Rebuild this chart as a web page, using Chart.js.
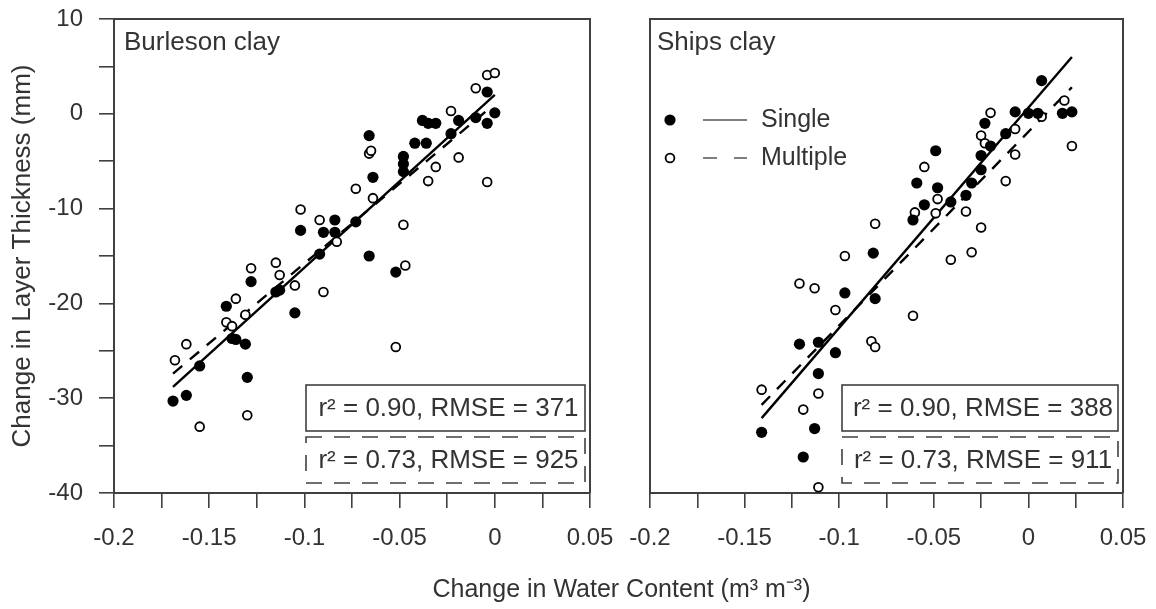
<!DOCTYPE html>
<html>
<head>
<meta charset="utf-8">
<title>Layer thickness vs water content</title>
<script src="https://cdn.jsdelivr.net/npm/chart.js@4.4.1/dist/chart.umd.min.js"></script>
<style>
  html, body { margin: 0; padding: 0; background: #fff; }
  #wrap { position: relative; width: 1156px; height: 609px; overflow: hidden; background: #fff; }
  #wrap canvas { position: absolute; left: 0; top: 0; }
</style>
</head>
<body>
<div id="wrap">
  <canvas id="burleson" width="1156" height="609"></canvas>
  <canvas id="ships" width="1156" height="609"></canvas>
</div>
<script>
// ---- axis ticks ----
const xTicks = [-0.2, -0.175, -0.15, -0.125, -0.1, -0.075, -0.05, -0.025, 0, 0.025, 0.05];
const xTickLabels = ['-0.2', '', '-0.15', '', '-0.1', '', '-0.05', '', '0', '', '0.05'];
const yTicks = [-40, -35, -30, -25, -20, -15, -10, -5, 0, 5, 10];
const yTickLabels = ['-40', '', '-30', '', '-20', '', '-10', '', '0', '', '10'];

// ---- Burleson clay: [change in water content, change in layer thickness] ----
const burlesonSingle = [
  [-0.169, -30.3], [-0.162, -29.7], [-0.155, -26.6], [-0.141, -20.3], [-0.138, -23.7],
  [-0.136, -23.8], [-0.131, -24.3], [-0.130, -27.8], [-0.128, -17.7], [-0.115, -18.8],
  [-0.113, -18.6], [-0.105, -21.0], [-0.092, -14.8], [-0.102, -12.3], [-0.090, -12.5],
  [-0.084, -11.2], [-0.084, -12.5], [-0.073, -11.4], [-0.066, -2.3], [-0.064, -6.7],
  [-0.066, -15.0], [-0.048, -4.5], [-0.048, -5.3], [-0.048, -6.1], [-0.042, -3.1],
  [-0.036, -3.1], [-0.038, -0.7], [-0.035, -1.0], [-0.031, -1.0], [-0.023, -2.1],
  [-0.019, -0.7], [-0.010, -0.4], [-0.004, 2.3], [-0.004, -1.0], [0.000, 0.1],
  [-0.052, -16.7]
];
const burlesonMultiple = [
  [-0.168, -26.0], [-0.162, -24.3], [-0.155, -33.0], [-0.141, -22.0], [-0.138, -22.4],
  [-0.136, -19.5], [-0.131, -21.2], [-0.130, -31.8], [-0.128, -16.3], [-0.115, -15.7],
  [-0.113, -17.0], [-0.105, -18.1], [-0.090, -18.8], [-0.102, -10.1], [-0.092, -11.2],
  [-0.083, -13.5], [-0.066, -4.2], [-0.065, -3.9], [-0.073, -7.9], [-0.064, -8.9],
  [-0.048, -11.7], [-0.031, -5.6], [-0.035, -7.1], [-0.019, -4.6], [-0.023, 0.3],
  [-0.010, 2.7], [-0.004, 4.1], [0.000, 4.3], [-0.004, -7.2], [-0.047, -16.0],
  [-0.052, -24.6]
];
const burlesonSingleFit = [[-0.169, -28.8], [0.000, 2.0]];
const burlesonMultipleFit = [[-0.169, -27.4], [-0.005, 0.2]];
const burlesonStats = ['r\u00B2 = 0.90, RMSE = 371', 'r\u00B2 = 0.73, RMSE = 925'];

// ---- Ships clay ----
const shipsSingle = [
  [0.007, 3.5], [-0.007, 0.2], [0.000, 0.05], [0.005, 0.05], [0.018, 0.05],
  [0.023, 0.2], [-0.023, -1.0], [-0.012, -2.1], [-0.020, -3.4], [-0.025, -4.4],
  [-0.049, -3.9], [-0.025, -5.9], [-0.059, -7.3], [-0.048, -7.8], [-0.030, -7.3],
  [-0.055, -9.6], [-0.033, -8.6], [-0.041, -9.3], [-0.061, -11.2], [-0.082, -14.7],
  [-0.097, -18.9], [-0.081, -19.5], [-0.121, -24.3], [-0.111, -24.1], [-0.102, -25.2],
  [-0.111, -27.4], [-0.141, -33.6], [-0.113, -33.2], [-0.119, -36.2]
];
const shipsMultiple = [
  [-0.020, 0.1], [0.007, -0.3], [0.019, 1.4], [0.023, -3.4], [-0.007, -1.6],
  [-0.007, -4.3], [-0.025, -2.3], [-0.023, -3.1], [-0.012, -7.1], [-0.055, -5.6],
  [-0.060, -10.4], [-0.048, -9.0], [-0.049, -10.5], [-0.033, -10.3], [-0.025, -12.0],
  [-0.041, -15.4], [-0.030, -14.6], [-0.081, -11.6], [-0.097, -15.0], [-0.121, -17.9],
  [-0.113, -18.4], [-0.102, -20.7], [-0.083, -24.0], [-0.081, -24.6], [-0.141, -29.1],
  [-0.111, -29.5], [-0.119, -31.2], [-0.111, -39.4], [-0.061, -21.3]
];
const shipsSingleFit = [[-0.141, -32.1], [0.023, 6.0]];
const shipsMultipleFit = [[-0.141, -30.7], [0.023, 2.8]];
const shipsStats = ['r\u00B2 = 0.90, RMSE = 388', 'r\u00B2 = 0.73, RMSE = 911'];

const seriesNames = ['Single', 'Multiple'];
const yTitle = 'Change in Layer Thickness (mm)';
const xTitle = 'Change in Water Content (m\u00B3 m\u207B\u00B3)';

// ---- styling ----
const FAMILY = "'Liberation Sans', Arial, Helvetica, sans-serif";
const TICK_SIZE = 24;
const TEXT = '#333333';
const AXIS = '#404040';
const font = px => px + 'px ' + FAMILY;

Chart.defaults.font.family = FAMILY;
Chart.defaults.font.size = TICK_SIZE;
Chart.defaults.color = TEXT;

const toXY = rows => rows.map(([x, y]) => ({ x, y }));

function panelDatasets(single, multiple, singleFit, multipleFit) {
  return [
    { label: seriesNames[0], data: toXY(single), pointRadius: 5.6, pointHoverRadius: 5.6,
      backgroundColor: '#000', borderColor: '#000', borderWidth: 0, order: 1 },
    { label: seriesNames[1], data: toXY(multiple), pointRadius: 4.4, pointHoverRadius: 4.4,
      backgroundColor: '#fff', borderColor: '#000', borderWidth: 1.8, order: 1 },
    { label: seriesNames[0] + ' fit', data: toXY(singleFit), showLine: true, pointRadius: 0,
      borderColor: '#000', borderWidth: 2.4, order: 2 },
    { label: seriesNames[1] + ' fit', data: toXY(multipleFit), showLine: true, pointRadius: 0,
      borderColor: '#000', borderWidth: 2.4, borderDash: [12, 10], order: 2 }
  ];
}

function xScale() {
  return {
    type: 'linear', position: 'bottom', min: -0.2, max: 0.05,
    afterBuildTicks: s => { s.ticks = xTicks.map(v => ({ value: v })); },
    // fixed axis height; the end labels may overhang the plot frame
    afterFit: s => { s.height = 116; s.paddingLeft = 0; s.paddingRight = 0; },
    ticks: { autoSkip: false, maxRotation: 0, minRotation: 0, padding: 16, color: TEXT,
             callback: (v, i) => xTickLabels[i] },
    grid: { drawOnChartArea: false, drawTicks: true, tickLength: 15, color: AXIS, lineWidth: 1.6 },
    border: { display: true, color: AXIS, width: 2 }
  };
}

function yScale(withLabels, width) {
  const s = {
    type: 'linear', position: 'left', min: -40, max: 10,
    afterBuildTicks: sc => { sc.ticks = yTicks.map(v => ({ value: v })); },
    // fixed axis width; the end labels may overhang the plot frame
    afterFit: sc => { sc.width = width; sc.paddingTop = 0; sc.paddingBottom = 0; },
    border: { display: true, color: AXIS, width: 2 }
  };
  if (withLabels) {
    s.ticks = { autoSkip: false, padding: 16, color: TEXT, callback: (v, i) => yTickLabels[i] };
    s.grid = { drawOnChartArea: false, drawTicks: true, tickLength: 15, color: AXIS, lineWidth: 1.6 };
    s.title = { display: true, text: yTitle, color: TEXT, padding: { top: 7, bottom: 0 },
                font: { size: 26, family: FAMILY } };
  } else {
    s.ticks = { display: false };
    s.grid = { display: false };
  }
  return s;
}

// Frame, panel name, fit statistics boxes and (optionally) the legend and shared x title.
const panelDecor = {
  id: 'panelDecor',
  afterDraw(chart, args, opts) {
    const { ctx, chartArea: a } = chart;
    ctx.save();
    // top and right edges of the frame
    ctx.strokeStyle = AXIS;
    ctx.lineWidth = 2;
    ctx.beginPath();
    ctx.moveTo(a.left, a.top);
    ctx.lineTo(a.right, a.top);
    ctx.lineTo(a.right, a.bottom);
    ctx.stroke();

    ctx.font = font(26);
    ctx.fillStyle = TEXT;
    ctx.textAlign = 'left';
    ctx.textBaseline = 'alphabetic';
    ctx.fillText(opts.name, a.left + opts.nameInset, a.top + 31);

    // statistics boxes: solid = single, dashed = multiple
    const bx = a.left + 192;
    const bw = a.right - 5 - bx;
    const bh = 46;
    const boxes = [
      { top: a.bottom - 108, dash: [], text: opts.stats[0] },
      { top: a.bottom - 56, dash: [16, 12], text: opts.stats[1] }
    ];
    boxes.forEach(b => {
      ctx.setLineDash(b.dash);
      ctx.lineWidth = 1.6;
      ctx.strokeStyle = AXIS;
      ctx.strokeRect(bx, b.top, bw, bh);
      ctx.setLineDash([]);
      ctx.font = font(26);
      ctx.textAlign = 'center';
      ctx.textBaseline = 'middle';
      ctx.fillStyle = TEXT;
      ctx.fillText(b.text, bx + bw / 2 + 3, b.top + bh / 2 + 1);
    });

    if (opts.legend) {
      const rows = [
        { y: a.top + 101, filled: true, dash: [] },
        { y: a.top + 139, filled: false, dash: [14, 17] }
      ];
      rows.forEach((r, i) => {
        const mx = a.left + 20;
        ctx.beginPath();
        ctx.arc(mx, r.y, r.filled ? 5.6 : 4.4, 0, Math.PI * 2);
        ctx.fillStyle = r.filled ? '#000' : '#fff';
        ctx.fill();
        if (!r.filled) { ctx.lineWidth = 1.8; ctx.strokeStyle = '#000'; ctx.stroke(); }
        ctx.setLineDash(r.dash);
        ctx.strokeStyle = '#555';
        ctx.lineWidth = 1.6;
        ctx.beginPath();
        ctx.moveTo(a.left + 53, r.y);
        ctx.lineTo(a.left + 97, r.y);
        ctx.stroke();
        ctx.setLineDash([]);
        ctx.font = font(25);
        ctx.fillStyle = TEXT;
        ctx.textAlign = 'left';
        ctx.textBaseline = 'middle';
        ctx.fillText(seriesNames[i], a.left + 111, r.y);
      });
    }

    if (opts.sharedTitle) {
      const first = Chart.getChart('burleson');
      const left = first ? first.chartArea.left : a.left;
      ctx.font = font(25);
      ctx.fillStyle = TEXT;
      ctx.textAlign = 'center';
      ctx.textBaseline = 'middle';
      ctx.fillText(xTitle, (left + a.right) / 2 + 3, a.bottom + 97);
    }
    ctx.restore();
  }
};

function makePanel(id, datasets, yOpts, padding, decor) {
  return new Chart(document.getElementById(id), {
    type: 'scatter',
    data: { datasets },
    options: {
      responsive: false,
      devicePixelRatio: 1,
      animation: false,
      events: [],
      layout: { padding },
      scales: { x: xScale(), y: yOpts },
      plugins: {
        legend: { display: false },
        tooltip: { enabled: false },
        panelDecor: decor
      }
    },
    plugins: [panelDecor]
  });
}

makePanel('burleson',
  panelDatasets(burlesonSingle, burlesonMultiple, burlesonSingleFit, burlesonMultipleFit),
  yScale(true, 114),
  { left: 0, top: 19, right: 566, bottom: 0 },
  { name: 'Burleson clay', nameInset: 10, stats: burlesonStats, legend: false, sharedTitle: false });

makePanel('ships',
  panelDatasets(shipsSingle, shipsMultiple, shipsSingleFit, shipsMultipleFit),
  yScale(false, 650),
  { left: 0, top: 19, right: 33, bottom: 0 },
  { name: 'Ships clay', nameInset: 7, stats: shipsStats, legend: true, sharedTitle: true });
</script>
</body>
</html>
